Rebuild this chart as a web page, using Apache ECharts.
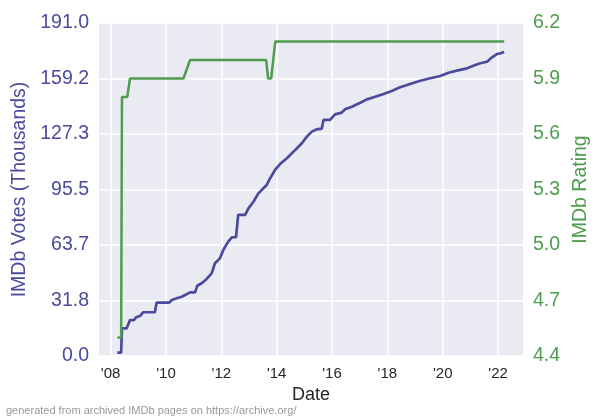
<!DOCTYPE html>
<html>
<head>
<meta charset="utf-8">
<script src="https://cdn.jsdelivr.net/npm/echarts@6/dist/echarts.min.js"></script>
<style>html,body{margin:0;padding:0;background:#fff}#c{width:600px;height:420px}</style>
</head>
<body>
<div id="c"></div>
<script>
// Votes (thousands) by date (decimal year)
const voteDates = [2008.24,2008.38,2008.41,2008.58,2008.70,2008.84,2008.92,2009.06,2009.18,2009.60,2009.66,2010.12,2010.21,2010.39,2010.57,2010.87,2011.05,2011.13,2011.29,2011.47,2011.65,2011.77,2011.95,2012.07,2012.25,2012.38,2012.53,2012.61,2012.86,2012.98,2013.16,2013.34,2013.52,2013.64,2013.76,2013.94,2014.12,2014.37,2014.67,2014.91,2015.09,2015.27,2015.45,2015.63,2015.69,2015.93,2016.11,2016.35,2016.47,2016.72,2017.02,2017.26,2017.56,2017.86,2018.16,2018.46,2018.82,2019.19,2019.55,2019.91,2020.21,2020.51,2020.88,2021.18,2021.36,2021.60,2021.78,2021.96,2022.08,2022.22];
const votes = [1.9,1.9,15.9,15.9,20.6,20.6,22.2,22.9,25.1,25.1,30.6,30.6,32.1,33.1,34.0,36.5,36.5,40.3,41.7,44.2,47.4,53.2,56.0,60.8,65.6,68.1,68.1,80.9,80.9,84.7,88.5,93.3,96.2,98.1,101.9,106.7,110.1,113.4,118.2,122.0,125.8,128.7,130.0,130.4,135.4,135.4,138.6,139.6,141.5,143.0,145.3,147.2,148.7,150.3,152.0,154.1,156.0,157.9,159.3,160.6,162.5,163.7,165.0,166.9,167.9,168.8,171.3,173.2,173.6,174.4];
// Rating by date
const ratingDates = [2008.25,2008.38,2008.41,2008.60,2008.70,2010.63,2010.87,2013.62,2013.69,2013.80,2013.95,2022.22];
const ratings = [4.5,4.5,5.8,5.8,5.9,5.9,6.0,6.0,5.9,5.9,6.1,6.1];
// Tick labels
const xTickYears = [2008,2010,2012,2014,2016,2018,2020,2022];
const xTickLabels = ["'08","'10","'12","'14","'16","'18","'20","'22"];

const BLUE = '#4b4b9b';
const GREEN = '#4e9c4e';
const FONT = '"Liberation Sans", Arial, sans-serif';

const chart = echarts.init(document.getElementById('c'), null, {renderer: 'canvas'});
chart.setOption({
  animation: false,
  backgroundColor: '#ffffff',
  textStyle: {fontFamily: FONT},
  grid: {left: 99, right: 77, top: 23, bottom: 64, show: true, backgroundColor: '#EAEAF2', borderWidth: 0},
  xAxis: {
    type: 'value', min: 2007.58, max: 2022.90,
    name: 'Date', nameLocation: 'middle', nameGap: 25,
    nameTextStyle: {color: '#262626', fontSize: 18, fontFamily: FONT},
    axisLine: {show: false},
    axisTick: {show: false, customValues: xTickYears},
    axisLabel: {customValues: xTickYears, color: '#262626', fontSize: 15, margin: 10, fontFamily: FONT,
      formatter: v => xTickLabels[xTickYears.indexOf(Math.round(v))] || ''},
    splitLine: {show: true, lineStyle: {color: '#ffffff', width: 1.5}}
  },
  yAxis: [{
    type: 'value', min: 0, max: 191, interval: 191/6, position: 'left',
    name: 'IMDb Votes (Thousands)', nameLocation: 'middle', nameGap: 63,
    nameTextStyle: {color: BLUE, fontSize: 19.5, fontFamily: FONT},
    axisLine: {show: false}, axisTick: {show: false},
    axisLabel: {color: BLUE, fontSize: 19.5, margin: 10, fontFamily: FONT, formatter: v => v.toFixed(1)},
    splitLine: {show: true, lineStyle: {color: '#ffffff', width: 1.5}}
  }, {
    type: 'value', min: 4.4, max: 6.2, interval: 0.3, position: 'right',
    name: 'IMDb Rating', nameLocation: 'middle', nameGap: 39,
    nameTextStyle: {color: GREEN, fontSize: 19.5, fontFamily: FONT},
    axisLine: {show: false}, axisTick: {show: false},
    axisLabel: {color: GREEN, fontSize: 19.5, margin: 10, fontFamily: FONT, formatter: v => v.toFixed(1)},
    splitLine: {show: false}
  }],
  series: [{
    type: 'line', yAxisIndex: 0, showSymbol: false,
    data: voteDates.map((d, i) => [d, votes[i]]),
    lineStyle: {color: BLUE, width: 2.7}, itemStyle: {color: BLUE}
  }, {
    type: 'line', yAxisIndex: 1, showSymbol: false,
    data: ratingDates.map((d, i) => [d, ratings[i]]),
    lineStyle: {color: GREEN, width: 2.5}, itemStyle: {color: GREEN}
  }],
  graphic: [{
    type: 'text', left: 6, top: 405,
    style: {text: 'generated from archived IMDb pages on https://archive.org/', fill: '#999999', fontSize: 11, fontFamily: FONT}
  }]
});
</script>
</body>
</html>
